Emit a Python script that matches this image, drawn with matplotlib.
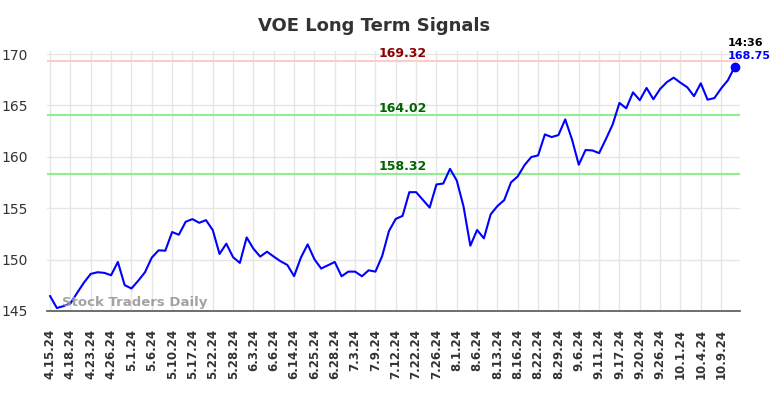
import matplotlib
matplotlib.use("Agg")
import matplotlib.pyplot as plt
import numpy as np

# closing prices, one per trading day shown on the chart
prices = [
    146.45, 145.29, 145.48, 145.74, 146.77, 147.77, 148.61, 148.77, 148.71, 148.48,
    149.77, 147.52, 147.19, 147.94, 148.77, 150.19, 150.90, 150.87, 152.68, 152.42,
    153.68, 153.94, 153.58, 153.84, 152.87, 150.55, 151.55, 150.23, 149.68, 152.16,
    151.06, 150.29, 150.77, 150.29, 149.84, 149.48, 148.39, 150.19, 151.48, 150.03,
    149.13, 149.45, 149.77, 148.38, 148.83, 148.83, 148.38, 148.96, 148.83, 150.36,
    152.79, 153.96, 154.25, 156.56, 156.56, 155.81, 155.06, 157.31, 157.40, 158.83,
    157.69, 155.16, 151.35, 152.88, 152.07, 154.40, 155.21, 155.79, 157.51, 158.10,
    159.20, 159.98, 160.14, 162.18, 161.92, 162.12, 163.64, 161.69, 159.23, 160.66,
    160.62, 160.36, 161.72, 163.15, 165.24, 164.72, 166.27, 165.51, 166.70, 165.60,
    166.60, 167.27, 167.70, 167.21, 166.77, 165.90, 167.15, 165.56, 165.71, 166.65,
    167.45, 168.75,
]

tick_labels = [
    "4.15.24", "4.18.24", "4.23.24", "4.26.24", "5.1.24", "5.6.24", "5.10.24",
    "5.17.24", "5.22.24", "5.28.24", "6.3.24", "6.6.24", "6.14.24", "6.25.24",
    "6.28.24", "7.3.24", "7.9.24", "7.12.24", "7.22.24", "7.26.24", "8.1.24",
    "8.6.24", "8.13.24", "8.16.24", "8.22.24", "8.29.24", "9.6.24", "9.11.24",
    "9.17.24", "9.20.24", "9.26.24", "10.1.24", "10.4.24", "10.9.24",
]

resistance = 169.32
supports = [164.02, 158.32]
last_time = "14:36"

x = np.arange(len(prices))
tick_pos = np.arange(len(tick_labels)) * 3

fig = plt.figure(figsize=(7.84, 3.98), dpi=100)
ax = fig.add_axes([0.06, 0.2186, 0.884, 0.6534])

ax.set_xlim(-0.45, 101.8)
ax.set_ylim(145, 170.3)

for s in ["top", "right", "left"]:
    ax.spines[s].set_visible(False)
ax.spines["bottom"].set_color("#555555")
ax.spines["bottom"].set_linewidth(1.2)

ax.set_yticks([145, 150, 155, 160, 165, 170])
ax.set_xticks(tick_pos)
ax.set_xticklabels(tick_labels, rotation=90, fontsize=8.5, fontweight="bold", color="#333333")
ax.tick_params(axis="both", length=0)
ax.tick_params(axis="y", labelsize=10, labelcolor="#333333", pad=14)
ax.tick_params(axis="x", pad=13)
ax.grid(True, color="#e6e6e6", linewidth=1)
ax.set_axisbelow(True)

ax.axhline(resistance, color="#ffcccc", linewidth=1.5, zorder=1)
for s in supports:
    ax.axhline(s, color="#90ee90", linewidth=1.5, zorder=1)

ax.text(52, resistance + 0.7, f"{resistance:.2f}", color="#8b0000", fontsize=9,
        fontweight="bold", ha="center", va="center")
for s in supports:
    ax.text(52, s + 0.7, f"{s:.2f}", color="#006400", fontsize=9,
            fontweight="bold", ha="center", va="center")

ax.plot(x, prices, color="#0000ff", linewidth=1.5, zorder=3)
ax.plot(x[-1], prices[-1], "o", color="#0000ff", markersize=6, zorder=4)
ax.annotate(last_time, (x[-1], prices[-1]), xytext=(-5, 17), textcoords="offset points",
            ha="left", va="center", fontsize=8, fontweight="bold", color="black")
ax.annotate(f"{prices[-1]:.2f}", (x[-1], prices[-1]), xytext=(-5, 8), textcoords="offset points",
            ha="left", va="center", fontsize=8, fontweight="bold", color="#0000ff")

ax.text(1.7, 145.85, "Stock Traders Daily", color="#999999", fontsize=9.5,
        fontweight="bold", ha="left", va="center", alpha=0.9)

fig.text(374.5 / 784, 1 - 26 / 398, "VOE Long Term Signals", ha="center", va="center",
         fontsize=13, fontweight="bold", color="#333333")

fig.savefig("out.png", dpi=100)
